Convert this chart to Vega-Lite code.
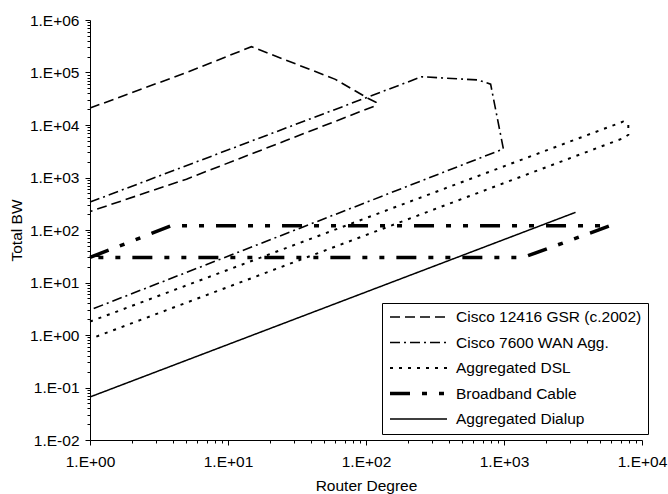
{
  "$schema": "https://vega.github.io/schema/vega-lite/v6.json",
  "width": 552,
  "height": 420,
  "autosize": {"type": "none"},
  "padding": {"left": 90, "top": 20, "right": 26, "bottom": 54},
  "background": "white",
  "config": {
    "view": {"stroke": null},
    "font": "Liberation Sans",
    "axis": {
      "grid": false,
      "domainColor": "black",
      "domainWidth": 1,
      "tickColor": "black",
      "tickWidth": 1,
      "labelColor": "black",
      "labelFont": "Liberation Sans",
      "labelFontSize": 15.5,
      "titleFont": "Liberation Sans",
      "titleFontSize": 15.5,
      "titleFontWeight": "normal",
      "titleColor": "black",
      "labelFlush": false,
      "labelOverlap": false
    },
    "legend": {
      "title": null,
      "orient": "none",
      "legendX": 292,
      "legendY": 283,
      "strokeColor": "black",
      "fillColor": "white",
      "padding": 6,
      "symbolType": "stroke",
      "symbolSize": 3249,
      "symbolStrokeColor": "black",
      "labelFont": "Liberation Sans",
      "labelFontSize": 15.5,
      "labelColor": "black",
      "labelOffset": 7,
      "labelLimit": 300,
      "clipHeight": 16,
      "rowPadding": 8.5
    }
  },
  "data": {
    "values": [
      {"s": "Cisco 12416 GSR (c.2002)", "o": 1, "x": 1, "y": 21000},
      {"s": "Cisco 12416 GSR (c.2002)", "o": 2, "x": 5, "y": 100000},
      {"s": "Cisco 12416 GSR (c.2002)", "o": 3, "x": 14.8, "y": 310000},
      {"s": "Cisco 12416 GSR (c.2002)", "o": 4, "x": 60, "y": 74000},
      {"s": "Cisco 12416 GSR (c.2002)", "o": 5, "x": 104, "y": 32000},
      {"s": "Cisco 12416 GSR (c.2002)", "o": 6, "x": 118, "y": 27000},
      {"s": "Cisco 12416 GSR (c.2002)", "o": 7, "x": 118, "y": 23500},
      {"s": "Cisco 12416 GSR (c.2002)", "o": 8, "x": 26, "y": 5000},
      {"s": "Cisco 12416 GSR (c.2002)", "o": 9, "x": 5, "y": 930},
      {"s": "Cisco 12416 GSR (c.2002)", "o": 10, "x": 1, "y": 225},
      {"s": "Cisco 7600 WAN Agg.", "o": 1, "x": 1, "y": 340},
      {"s": "Cisco 7600 WAN Agg.", "o": 2, "x": 253, "y": 83000},
      {"s": "Cisco 7600 WAN Agg.", "o": 3, "x": 650, "y": 72000},
      {"s": "Cisco 7600 WAN Agg.", "o": 4, "x": 800, "y": 60000},
      {"s": "Cisco 7600 WAN Agg.", "o": 5, "x": 990, "y": 3500},
      {"s": "Cisco 7600 WAN Agg.", "o": 6, "x": 1, "y": 3.0},
      {"s": "Aggregated DSL", "o": 1, "x": 1, "y": 1.8},
      {"s": "Aggregated DSL", "o": 2, "x": 7300, "y": 11600},
      {"s": "Aggregated DSL", "o": 3, "x": 7960, "y": 10400},
      {"s": "Aggregated DSL", "o": 4, "x": 7960, "y": 6500},
      {"s": "Aggregated DSL", "o": 5, "x": 7300, "y": 5600},
      {"s": "Aggregated DSL", "o": 6, "x": 1, "y": 0.84},
      {"s": "Broadband Cable", "o": 1, "x": 1, "y": 30},
      {"s": "Broadband Cable", "o": 2, "x": 3.9, "y": 121},
      {"s": "Broadband Cable", "o": 3, "x": 5900, "y": 121},
      {"s": "Broadband Cable", "o": 4, "x": 1380, "y": 30},
      {"s": "Broadband Cable", "o": 5, "x": 1, "y": 30},
      {"s": "Aggregated Dialup", "o": 1, "x": 1, "y": 0.066},
      {"s": "Aggregated Dialup", "o": 2, "x": 3300, "y": 217}
    ]
  },
  "mark": {"type": "line", "color": "black", "clip": false},
  "encoding": {
    "x": {
      "field": "x",
      "type": "quantitative",
      "scale": {"type": "log", "domain": [1, 10000]},
      "axis": {
        "title": "Router Degree",
        "values": [1,2,3,4,5,6,7,8,9,10,20,30,40,50,60,70,80,90,100,200,300,400,500,600,700,800,900,1000,2000,3000,4000,5000,6000,7000,8000,9000,10000],
        "labelExpr": "abs(log(datum.value)/LN10 - round(log(datum.value)/LN10)) < 0.001 ? '1.E' + (datum.value >= 1 ? '+' : '-') + '0' + abs(round(log(datum.value)/LN10)) : ''",
        "tickSize": {"condition": {"test": "abs(log(datum.value)/LN10 - round(log(datum.value)/LN10)) < 0.001", "value": 5}, "value": 3},
        "labelPadding": 9,
        "titleX": 276,
        "titleY": 50,
        "titleAlign": "center",
        "titleBaseline": "alphabetic"
      }
    },
    "y": {
      "field": "y",
      "type": "quantitative",
      "scale": {"type": "log", "domain": [0.01, 1000000]},
      "axis": {
        "title": "Total BW",
        "values": [0.01,0.02,0.03,0.04,0.05,0.06,0.07,0.08,0.09,0.1,0.2,0.3,0.4,0.5,0.6,0.7,0.8,0.9,1,2,3,4,5,6,7,8,9,10,20,30,40,50,60,70,80,90,100,200,300,400,500,600,700,800,900,1000,2000,3000,4000,5000,6000,7000,8000,9000,10000,20000,30000,40000,50000,60000,70000,80000,90000,100000,200000,300000,400000,500000,600000,700000,800000,900000,1000000],
        "labelExpr": "abs(log(datum.value)/LN10 - round(log(datum.value)/LN10)) < 0.001 ? '1.E' + (datum.value >= 1 ? '+' : '-') + '0' + abs(round(log(datum.value)/LN10)) : ''",
        "tickSize": {"condition": {"test": "abs(log(datum.value)/LN10 - round(log(datum.value)/LN10)) < 0.001", "value": 5}, "value": 3},
        "labelPadding": 6,
        "titleX": -74,
        "titleY": 210,
        "titleAngle": 270,
        "titleAlign": "center",
        "titleBaseline": "middle"
      }
    },
    "order": {"field": "o", "type": "quantitative"},
    "strokeDash": {
      "field": "s",
      "type": "nominal",
      "scale": {
        "domain": ["Cisco 12416 GSR (c.2002)", "Cisco 7600 WAN Agg.", "Aggregated DSL", "Broadband Cable", "Aggregated Dialup"],
        "range": [[10, 5], [10, 4, 2, 4], [3, 6], [20, 12, 5, 12, 5, 12], [1, 0]]
      }
    },
    "strokeWidth": {
      "field": "s",
      "type": "nominal",
      "scale": {
        "type": "ordinal",
        "domain": ["Cisco 12416 GSR (c.2002)", "Cisco 7600 WAN Agg.", "Aggregated DSL", "Broadband Cable", "Aggregated Dialup"],
        "range": [1.6, 1.6, 2, 3.5, 1.5]
      }
    }
  }
}
